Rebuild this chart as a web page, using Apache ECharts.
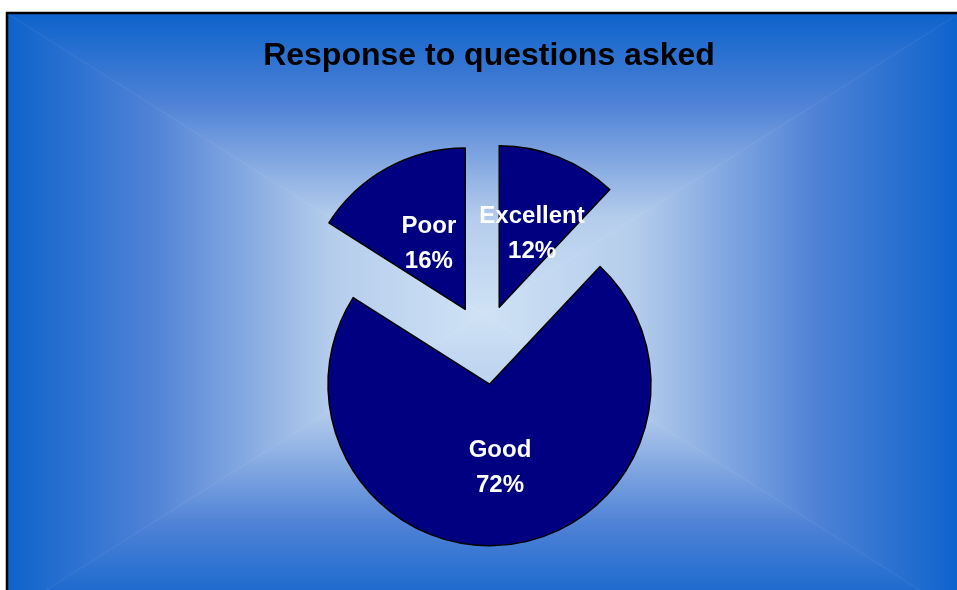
<!DOCTYPE html>
<html>
<head>
<meta charset="utf-8">
<title>Response to questions asked</title>
<script src="https://cdn.jsdelivr.net/npm/echarts@6/dist/echarts.min.js"></script>
<style>
  html, body { margin: 0; padding: 0; background: #ffffff; }
  #chart { width: 957px; height: 590px; }
</style>
</head>
<body>
<div id="chart"></div>
<script>
// Survey answers and their shares (percent)
const categories = ['Excellent', 'Good', 'Poor'];
const shares = [12, 72, 16];
const chartTitle = 'Response to questions asked';

// Small nudges of the in-slice labels, per answer
const labelNudge = { Excellent: [2, 4], Good: [0, 1], Poor: [4, 8] };

const FONT = '"Liberation Sans", Arial, Helvetica, sans-serif';

// Framed plot background: a rectangular "from centre" gradient,
// built from four triangles that each fade from an edge to the centre.
const frame = { l: 8, t: 14, r: 958, b: 614 };
const mid = { x: (frame.l + frame.r) / 2, y: (frame.t + frame.b) / 2 };
const stops = [
  { offset: 0, color: '#0d63cc' },
  { offset: 0.3, color: '#4f82d6' },
  { offset: 0.68, color: '#b5cdec' },
  { offset: 1, color: '#cfe2f5' }
];
function fade(x, y, x2, y2) {
  return { type: 'linear', x: x, y: y, x2: x2, y2: y2, global: true, colorStops: stops };
}
const bgPieces = [
  { pts: [[frame.l, frame.t], [frame.r, frame.t], [mid.x, mid.y]], fill: fade(0, frame.t, 0, mid.y) },
  { pts: [[frame.l, frame.b], [frame.r, frame.b], [mid.x, mid.y]], fill: fade(0, frame.b, 0, mid.y) },
  { pts: [[frame.l, frame.t], [frame.l, frame.b], [mid.x, mid.y]], fill: fade(frame.l, 0, mid.x, 0) },
  { pts: [[frame.r, frame.t], [frame.r, frame.b], [mid.x, mid.y]], fill: fade(frame.r, 0, mid.x, 0) }
];
const graphics = bgPieces.map(function (p) {
  return {
    type: 'polygon',
    silent: true,
    z: -10,
    shape: { points: p.pts },
    style: { fill: p.fill, stroke: p.fill, lineWidth: 0.6 }
  };
});
graphics.push({
  type: 'rect',
  silent: true,
  z: -9,
  shape: { x: frame.l - 1, y: frame.t - 1, width: frame.r - frame.l + 20, height: frame.b - frame.t + 20 },
  style: { fill: 'none', stroke: '#000000', lineWidth: 2.5 }
});

const chart = echarts.init(document.getElementById('chart'), null, { renderer: 'canvas' });
chart.setOption({
  animation: false,
  backgroundColor: '#ffffff',
  graphic: graphics,
  title: {
    text: chartTitle,
    left: 484,
    textAlign: 'center',
    top: 35,
    textStyle: { fontFamily: FONT, fontSize: 32, fontWeight: 'bold', color: '#000000' }
  },
  series: [{
    type: 'pie',
    center: [484.5, 344.5],
    radius: 161.5,
    startAngle: 90,
    clockwise: true,
    selectedMode: 'multiple',
    selectedOffset: 40,
    avoidLabelOverlap: false,
    minShowLabelAngle: 0,
    itemStyle: { color: '#000080', borderColor: '#000000', borderWidth: 1.5 },
    label: {
      show: true,
      position: 'inside',
      formatter: '{b}\n{c}%',
      color: '#ffffff',
      fontFamily: FONT,
      fontSize: 24,
      fontWeight: 'bold',
      lineHeight: 35,
      align: 'center',
      width: 40,
      overflow: 'none'
    },
    labelLayout: function (params) {
      const nudge = labelNudge[categories[params.dataIndex]];
      return { dx: nudge[0], dy: nudge[1], hideOverlap: false };
    },
    labelLine: { show: false },
    emphasis: { disabled: true },
    select: { itemStyle: { color: '#000080', borderColor: '#000000', borderWidth: 1.5 } },
    data: categories.map(function (name, i) {
      return { name: name, value: shares[i], selected: true };
    })
  }]
});
</script>
</body>
</html>
